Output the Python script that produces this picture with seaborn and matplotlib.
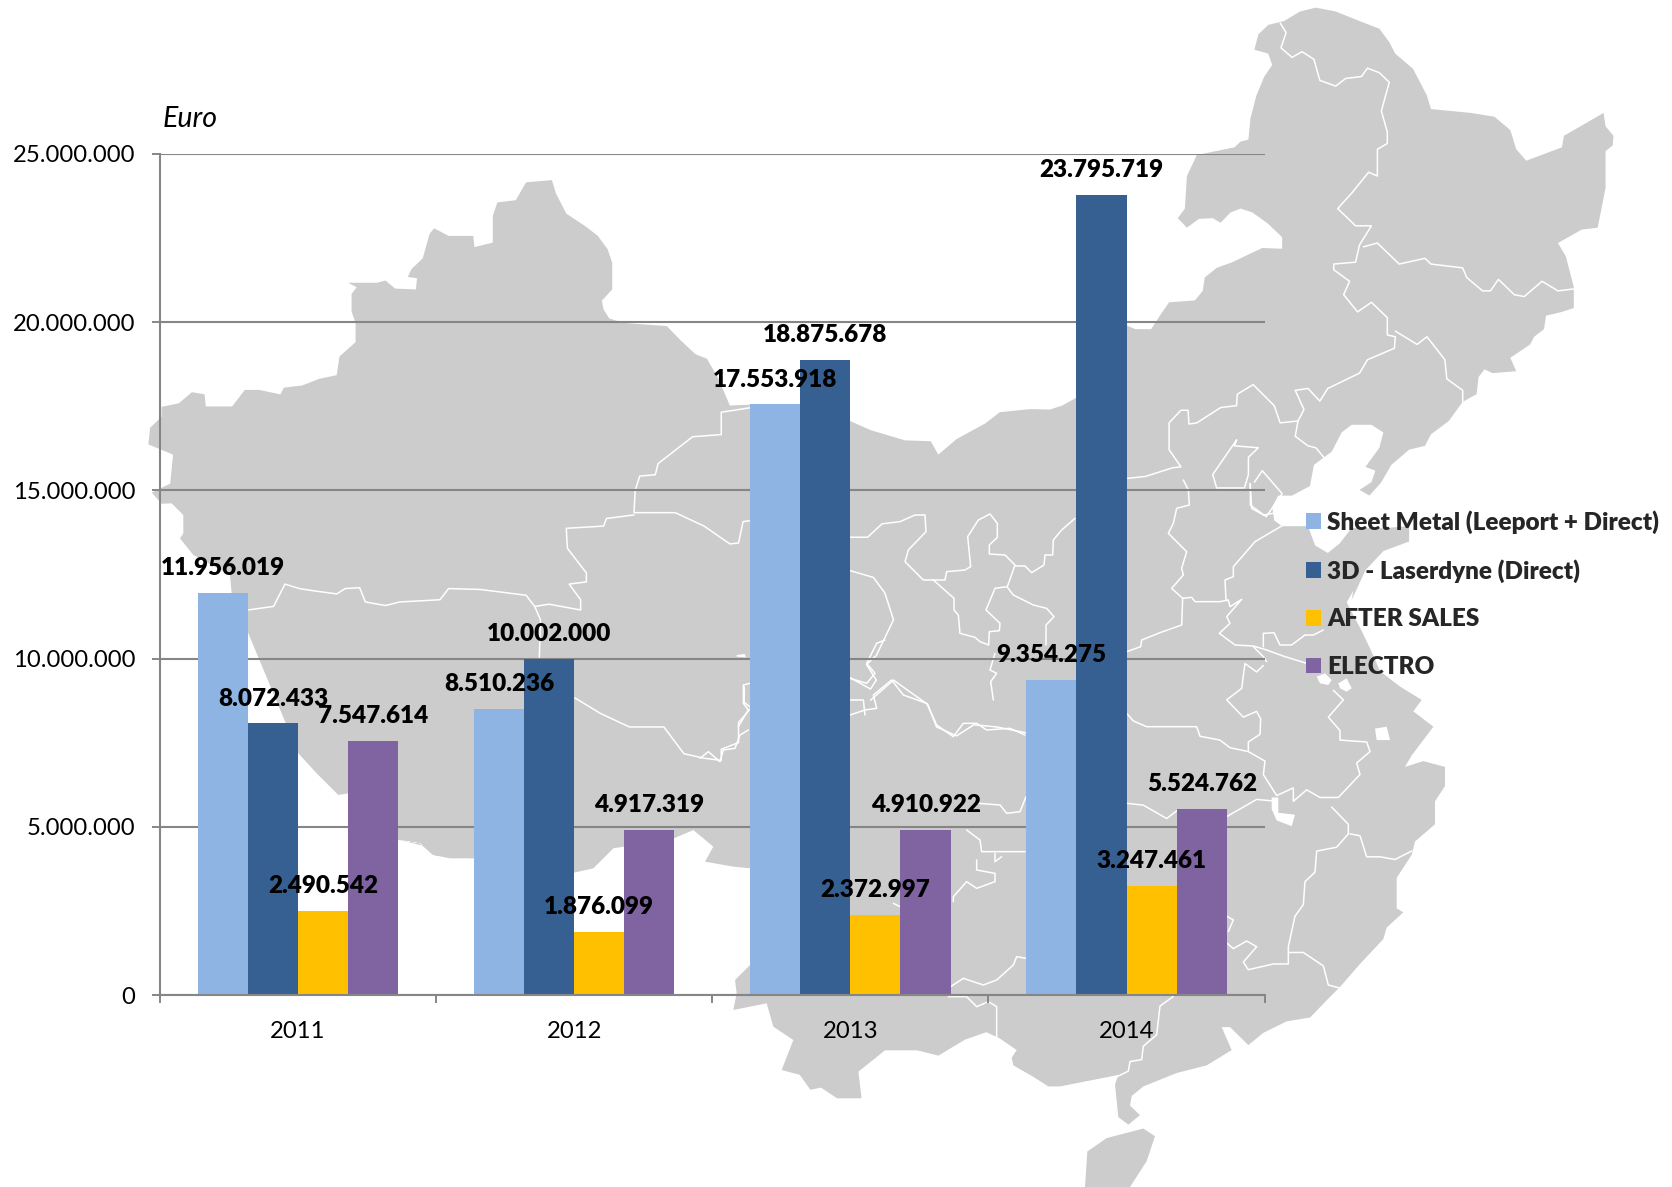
import matplotlib
matplotlib.use("Agg")
import matplotlib.pyplot as plt
import pandas as pd
import seaborn as sns

years = ["2011", "2012", "2013", "2014"]
series = ["Sheet Metal (Leeport + Direct)", "3D - Laserdyne (Direct)", "AFTER SALES", "ELECTRO"]
sheet_metal = [11956019, 8510236, 17553918, 9354275]
laserdyne = [8072433, 10002000, 18875678, 23795719]
after_sales = [2490542, 1876099, 2372997, 3247461]
electro = [7547614, 4917319, 4910922, 5524762]
colors = ["#8EB4E3", "#366092", "#FFC000", "#8064A2"]
y_ticks = [0, 5000000, 10000000, 15000000, 20000000, 25000000]

sns.set_theme(style="white")
plt.rcParams["font.family"] = ["Lato", "DejaVu Sans"]
W, H = 1672, 1187
FS = 17.2


def dotted(v):
    return f"{v:,}".replace(",", ".")


# ---- background map of China, traced by eye from crops of the picture ----
def conv(pts, ox, oy, sx, sy):
    return [(ox + x / sx, oy + y / sy) for x, y in pts]

def z1(p): return conv(p, 1050, 0, 2.52, 2.613)
def z2(p): return conv(p, 1000, 587, 3, 2.613)
def z3(p): return conv(p, 130, 160, 1.742, 2.24)
def z5(p): return conv(p, 400, 780, 3, 3)
def z6(p): return conv(p, 700, 640, 3, 3)
def z7(p): return conv(p, 130, 500, 3, 3)
def za(p): return conv(p, 900, 500, 3, 3)
def zb(p): return conv(p, 1120, 480, 3, 3)
def zs(p): return conv(p, 0, 0, 1 / 1.0663, 1 / 1.0663)

outline = (
    z3([(32,637),(35,600),(55,575),(55,553),(85,545),(108,520),(130,525),(132,552),(178,552),(200,515),(225,515),
        (262,525),(268,510),(300,505),(330,490),(360,482),(365,440),(393,408),(393,365),(386,340),(386,300),(395,285),
        (380,275),(430,275),(445,270),(462,288),(498,290),(500,265),(484,262),(490,245),(510,220),(522,165),(530,153),
        (555,170),(598,170),(600,195),(632,185),(632,125),(640,95),(672,90),(690,50),(735,45),(742,75),(760,120),
        (795,150),(815,170),(832,200),(840,230),(840,290),(822,315),(825,335),(835,355),(860,365),(935,372),(960,405),
        (985,435),(1005,445),(1025,490),(1045,550),(1080,548),(1255,585),(1290,605),(1350,628),(1395,630),(1408,660),
        (1440,625),(1490,590),(1515,565),(1568,558)])
    + z1([(0,1070),(30,1060),(65,1040),(192,850),(215,860),(255,860),(280,820),(300,790),(365,785),(385,760),(390,725),
          (420,700),(460,685),(500,665),(535,648),(585,650),(585,620),(550,585),(510,555),(480,545),(455,555),(430,582),
          (410,570),(375,572),(345,595),(322,570),(340,545),(345,460),(370,405),(465,385),(480,370),(500,365),(505,310),
          (520,250),(540,200),(560,170),(550,140),(515,130),(525,90),(550,65),(590,55),(630,30),(670,20),(720,30),
          (780,55),(830,75),(855,110),(870,140),(915,180),(950,250),(960,285),(1060,295),(1120,305),(1160,340),(1175,390),
          (1200,420),(1290,385),(1295,355),(1395,295),(1400,330),(1420,355),(1418,380),(1400,395),(1400,490),(1385,570),
          (1380,595),(1340,600),(1280,635),(1300,670),(1310,710),(1320,750),(1320,805),(1290,815),(1250,825),(1245,860),
          (1220,880),(1210,900),(1160,935),(1175,970),(1115,975),(1095,965),(1080,985),(1075,1030),(1040,1050),(1005,1100),
          (960,1135),(945,1165),(905,1175),(860,1215),(835,1260),(805,1295),(780,1280),(810,1260),(820,1230),(795,1220),
          (830,1170),(840,1130),(810,1110),(760,1110),(735,1130),(710,1180),(665,1215),(655,1270),(610,1295),(575,1295),
          (560,1325),(565,1360),(585,1375),(650,1375),(668,1425),(700,1445),(730,1420),(760,1380),(840,1380),(905,1375),
          (905,1415),(840,1440),(795,1490),(760,1568)])
    + z2([(1060,10),(1040,40),(1085,115),(1110,160),(1140,220),(1200,260),(1265,295),(1240,325),(1300,365),(1270,400),
          (1235,440),(1215,470),(1270,455),(1335,470),(1335,520),(1305,560),(1305,620),(1245,665),(1235,700),(1190,760),
          (1190,840),(1210,850),(1160,890),(1150,920),(1080,985),(1020,1045),(980,1080),(930,1125),(860,1135),(790,1165),
          (745,1197),(690,1150),(665,1150),(695,1210),(620,1250),(530,1270),(430,1305),(395,1330),(390,1355),(420,1380),
          (385,1405),(355,1385),(345,1300),(355,1275),(180,1305),(145,1305),(100,1280),(40,1250),(35,1230),(50,1210),(0,1180)])
    + zs([(925,968),(905,975),(880,990),(860,985),(830,985),(805,1005),(808,1030),(785,1030),(770,1020),(760,1022),(750,1008)])
    + z5([(1145,870),(1180,780),(1120,740),(1100,670),(1000,690),(1010,640),(1005,600),(1050,555),(1050,265),(1000,260),
          (915,245),(940,200),(880,150),(822,175),(672,200),(640,205),(580,265),(522,278),(220,235),(100,225),(60,190),(0,180)])
    + z7([(1030,1075),(960,1075),(910,1065),(870,1030),(805,1020),(655,880),(625,885),(560,820),(505,760),(305,280),
          (300,225),(190,165),(150,115),(160,100),(160,45),(125,10)])
    + z3([(55,770),(38,745),(70,725),(75,660)])
)
hainan = z2([(255,1568),(262,1475),(320,1440),(430,1415),(465,1435),(440,1500),(390,1568)])
lakes = [
    z2([(815,550),(835,550),(835,590),(885,595),(875,625),(830,610),(815,580)]),
    z2([(1125,370),(1160,365),(1170,400),(1130,400)]),
    z6([(110,45),(135,42),(137,52),(110,50)]),
    zb([(590,590),(615,580),(635,600),(625,615),(600,610)]),
    zb([(655,610),(680,595),(695,625),(680,635),(660,625)]),
]

borders = [
    z1([(580,60),(595,85),(582,125),(610,150),(635,135),(665,155),(680,210),(720,225),(745,205),(785,200),(800,178),(830,190),
        (855,215),(835,290),(850,345),(850,375),(825,390),(825,460),(803,450),(760,505),(725,545),(770,590),(810,590),(780,640),
        (770,685),(715,690),(715,705),(755,735),(740,770),(775,815),(810,790),(850,830),(850,875),(870,880)]),
    z1([(790,645),(825,635),(880,690),(945,675),(960,690),(1040,700),(1050,725),(1090,760),(1110,760),(1130,730),(1170,770),
        (1195,775),(1240,735),(1280,760),(1320,755)]),
    z1([(870,865),(925,900),(950,880),(995,940),(1000,990),(1040,1020),(1040,1050)]),
    z1([(870,880),(868,910),(800,940),(780,975),(700,1015),(680,1048),(650,1015),(618,1020),(640,1070),(625,1100),(580,1105),
        (565,1060),(512,1005),(472,1030),(470,1060),(430,1065),(370,1105),(350,1108),(348,1072),(330,1072),(300,1105),(300,1175),
        (330,1220),(310,1222),(240,1245),(195,1250)]),
    z1([(625,1100),(618,1140),(650,1165),(670,1170),(690,1195)]),
    z1([(470,1150),(410,1240),(420,1275),(490,1275),(500,1240),(500,1195),(525,1170),(465,1165),(470,1150)]),
    z1([(505,1265),(505,1320),(545,1350),(585,1290),(535,1230),(515,1260)]),
    zb([(190,0),(205,30),(208,75),(170,85),(160,130),(145,160),(200,215),(185,265),(190,285),(155,325),(188,355),(185,435),
        (120,458),(65,480),(62,500),(20,515)]),
    zb([(188,355),(215,352),(225,365),(300,365),(325,360),(330,380),(365,358),(320,410),(330,430),(298,460),(345,495),(400,498),
        (440,510),(495,530),(560,550)]),
    zb([(490,135),(405,185),(340,260),(340,290),(315,300),(318,360),(325,362)]),
    zb([(400,500),(430,530),(440,545)]),
    zb([(430,500),(430,460),(462,458),(480,495),(515,495),(555,465),(580,465),(610,450)]),
    zb([(390,10),(395,85),(430,105),(460,100)]),
    z2([(790,205),(770,222),(735,200),(725,265),(680,295),(730,340),(770,325),(782,345),(780,385),(745,405),(745,430),(795,455),
        (790,490),(830,545),(880,525),(880,560),(920,530),(960,550),(1015,550),(1080,490),(1070,460),(1110,430),(1100,405),
        (1020,400),(1020,375),(985,340),(1030,295),(1000,270)]),
    z2([(380,330),(400,350),(440,365),(590,365),(600,390),(660,400),(690,420),(745,430)]),
    z2([(378,565),(430,570),(500,605),(530,585),(680,600),(730,575),(770,555),(830,560)]),
    z2([(995,575),(1045,620),(1045,645),(1010,680),(950,690),(945,745),(915,770),(910,830),(885,860),(865,940),(865,985),
        (820,985),(745,1000),(730,980),(770,940),(740,925),(700,945),(680,930)]),
    z2([(680,860),(700,870),(685,900)]),
    z2([(1050,645),(1080,650),(1100,705),(1140,705),(1185,712),(1235,690)]),
    z2([(865,955),(910,955),(970,990),(985,1040),(1020,1048)]),
    z2([(520,1070),(480,1095),(470,1170),(430,1200),(425,1235),(390,1240),(385,1265),(350,1280)]),
    z3([(1080,555),(1030,565),(1030,615),(980,620),(920,680),(915,705),(888,708),(880,740),(878,790),(950,790),(1000,820),
        (1045,860),(1060,858),(1068,810),(1080,808)]),
    z3([(878,795),(830,803),(825,820),(760,825),(762,870),(795,925),(795,945),(765,950),(785,985),(785,1008),(730,995),(705,1000),
        (690,975),(610,962),(555,960),(540,985),(470,990),(445,998),(410,990),(400,958),(375,960),(360,972),(320,965),(295,960),
        (270,950),(250,1000),(205,1008)]),
    z3([(705,1000),(715,1030),(713,1118)]),
    z3([(775,1205),(820,1240),(870,1270),(930,1270),(965,1330),(1000,1340),(1030,1345),(1030,1320),(1060,1305),(1060,1260),(1080,1230)]),
    z3([(1070,1180),(1070,1215),(1080,1225)]),
    z3([(1255,845),(1285,845),(1310,815)]) + za([(0,65),(45,45),(75,45),(78,95),(25,150),(15,185),(70,240),(135,240),(140,215),
        (195,210),(212,200),(203,110),(235,60),(270,42),(292,70),(292,112),(268,135),(268,162),(315,165),(345,195),(322,260),
        (285,265),(258,330),(300,370),(298,392),(268,395),(266,435),(240,425),(225,412),(180,400),(175,345),(162,330),(162,295),(100,240)]),
    za([(345,198),(375,198),(395,218),(432,195),(435,165),(458,165),(460,120),(485,90),(525,55)]),
    za([(322,262),(340,285),(400,315),(440,325),(462,350),(438,375),(438,435)]),
    za([(285,460),(270,510),(290,520),(272,545),(280,600)]),
    z3([(1255,920),(1295,935),(1315,970),(1330,1030),(1300,1110),(1283,1130),(1300,1165),(1290,1185),(1255,1160)]),
    z3([(1290,1210),(1330,1165),(1390,1220),(1405,1270),(1440,1290),(1470,1265),(1510,1270),(1568,1285)]),
    z6([(450,115),(500,130),(525,100),(500,70),(530,10),(555,0)]),
    z6([(450,225),(495,210),(530,205),(520,165),(575,120),(610,165),(680,190),(710,255),(760,290),(790,250),(830,250),(860,270),
        (930,265),(975,285)]),
    z6([(450,180),(490,180),(495,225)]),
    z6([(0,355),(25,335),(60,365),(70,330),(105,325),(120,285),(145,270)]),
    z6([(115,260),(145,210),(130,190),(130,135),(150,130)]),
    z6([(835,490),(900,495),(920,520),(960,515),(978,470)]),
    z6([(800,570),(840,600),(845,635),(975,635)]),
    z6([(885,640),(885,665),(905,650)]),
    z6([(830,660),(830,690),(885,700),(885,725),(830,745),(800,725),(760,770),(760,785)]),
    z6([(580,790),(600,800)]),
    z6([(752,1040),(790,1015),(850,1035),(890,1020),(940,975),(950,950),(978,955)]),
    z6([(745,1070),(800,1070),(830,1100),(865,1085),(890,1100),(890,1200)]),
]

fig = plt.figure(figsize=(W / 100, H / 100), dpi=100, facecolor="white")

bg = fig.add_axes([0, 0, 1, 1], zorder=0)
bg.set_xlim(0, W)
bg.set_ylim(H, 0)
bg.axis("off")
bg.fill(*zip(*outline), color="#CCCCCC", lw=0)
bg.fill(*zip(*hainan), color="#CCCCCC", lw=0)
for lake in lakes:
    bg.fill(*zip(*lake), color="white", lw=0)
for line in borders:
    bg.plot(*zip(*line), color="white", lw=1.1, solid_joinstyle="round")

# ---- chart ----
L, R, T, B = 160, 1264.6, 154, 995
ax = fig.add_axes([L / W, 1 - B / H, (R - L) / W, (B - T) / H], zorder=1)
ax.patch.set_alpha(0)

df = pd.DataFrame({
    "year": years * 4,
    "series": [s for s in series for _ in years],
    "value": sheet_metal + laserdyne + after_sales + electro,
})
sns.barplot(data=df, x="year", y="value", hue="series", order=years, hue_order=series,
            palette=colors, saturation=1, width=0.726, gap=0, ax=ax, linewidth=0, errorbar=None)

for cont, vals in zip(ax.containers, [sheet_metal, laserdyne, after_sales, electro]):
    ax.bar_label(cont, labels=[dotted(v) for v in vals], padding=10, fontsize=17.5,
                 fontweight="heavy", color="black", zorder=5)

ax.set_xlim(-0.5, 3.5)
ax.set_ylim(0, 25000000)
ax.set_xlabel("")
ax.set_ylabel("")
ax.set_yticks(y_ticks)
ax.set_yticklabels([dotted(v) for v in y_ticks], fontsize=FS, color="black")
ax.set_xticks(range(4))
ax.set_xticklabels(years, fontsize=FS, color="black")
ax.set_xticks([-0.5, 0.5, 1.5, 2.5, 3.5], minor=True)
ax.tick_params(axis="x", which="major", length=0, pad=19)
ax.tick_params(axis="x", which="minor", length=5.8, width=1.4, color="#868686", bottom=True)
ax.tick_params(axis="y", length=5.8, width=1.4, color="#868686", pad=12, left=True)
ax.set_axisbelow(True)
ax.grid(axis="y", color="#868686", lw=1.5)
ax.grid(axis="x", visible=False)
sns.despine(ax=ax, top=True, right=True)
for side in ("left", "bottom"):
    ax.spines[side].set_color("#868686")
    ax.spines[side].set_linewidth(1.5)

handles, labels = ax.get_legend_handles_labels()
ax.legend(handles, labels, loc="upper left", bbox_to_anchor=(1306 / W, 1 - 510 / H),
          bbox_transform=fig.transFigure, frameon=False, borderpad=0, borderaxespad=0,
          handlelength=0.62, handleheight=0.62, handletextpad=0.25, labelspacing=1.05,
          prop={"weight": "heavy", "size": 17.5})

fig.text(163 / W, 1 - 119 / H, "Euro", fontsize=20.5, style="italic", color="black", va="center", ha="left")

fig.savefig("out.png", dpi=100, facecolor="white")
